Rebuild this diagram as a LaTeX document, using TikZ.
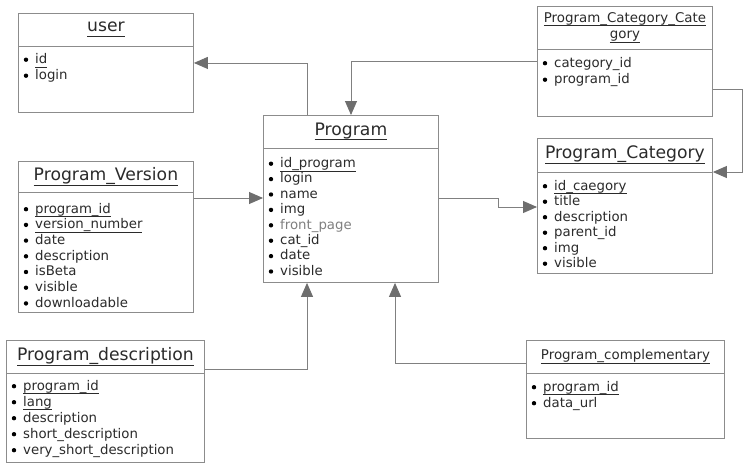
\documentclass[tikz,border=0pt]{standalone}
\usepackage{fontspec}
\setmainfont{DejaVu Sans}
\usetikzlibrary{arrows.meta,calc}

\definecolor{boxgray}{HTML}{8C8C8C}
\definecolor{linegray}{HTML}{808080}
\definecolor{tipgray}{HTML}{6E6E6E}
\definecolor{inkgray}{HTML}{2B2B2B}

% underline set at the foot of the descenders, just under the underscores
\newsavebox\ulbox
\newcommand\ul[1]{\sbox\ulbox{#1}\rlap{\rule[-0.28em]{\wd\ulbox}{0.045em}}\usebox\ulbox}

\tikzset{
  entbox/.style={draw=boxgray, line width=0.9pt, fill=white, inner sep=0pt, anchor=north west},
  entline/.style={draw=boxgray, line width=0.9pt},
  bigtitle/.style={font=\fontsize{17.2}{19}\selectfont, text=inkgray, inner sep=0pt, align=center},
  smalltitle/.style={font=\fontsize{13.4}{16.5}\selectfont, text=inkgray, inner sep=0pt, align=center},
  item/.style={font=\fontsize{13.3}{15}\selectfont, text=inkgray, inner sep=0pt, anchor=base west},
  bul/.style={fill=black},
  conn/.style={draw=linegray, line width=0.9pt, -{Triangle[length=14pt,width=12pt,fill=tipgray,color=tipgray]}},
}

% #1 name, #2 x, #3 y, #4 width, #5 height, #6 header height, #7 title style, #8 title
\newcommand\erbox[8]{%
  \node[entbox, minimum width=#4pt, minimum height=#5pt] (#1) at (#2,#3) {};
  \draw[entline] ([yshift=-#6pt]#1.north west) -- ([yshift=-#6pt]#1.north east);
  \node[#7] (#1-title) at ($(#1.north)!0.5!([yshift=-#6pt]#1.north)$) {#8};
}
% #1 name, #2 first baseline below top, #3 row pitch, #4 list of attributes
\newcommand\attrs[4]{%
  \foreach \t [count=\i] in {#4} {
    \node[item] (#1-a\i) at ([xshift=17pt, yshift={-(#2+(\i-1)*#3)*1pt}]#1.north west) {\t};
    \fill[bul] ([xshift=8pt, yshift={-(#2+(\i-1)*#3-3.8)*1pt}]#1.north west) circle (2.2pt);
  }%
}

\begin{document}
\begin{tikzpicture}[x=1pt, y=-1pt]
\useasboundingbox[fill=white] (0,0) rectangle (749,466);

% entities
\erbox{user}{18}{13}{175}{99}{33}{bigtitle}{\ul{user}}
\attrs{user}{50.5}{16}{\ul{id}, login}

\erbox{pcc}{537}{6}{175}{110}{43}{smalltitle}{\ul{Program\_Category\_Cate}\\[0pt]\ul{gory}}
\attrs{pcc}{61}{16.5}{category\_id, program\_id}

\erbox{prog}{263}{115}{175}{167}{33}{bigtitle}{\ul{Program}}
\attrs{prog}{52.5}{15.4}{\ul{id\_program}, login, name, img, \textcolor{gray}{front\_page}, cat\_id, date, visible}

\erbox{pcat}{537}{138}{175}{135}{34}{bigtitle}{\ul{Program\_Category}}
\attrs{pcat}{52}{15.5}{\ul{id\_caegory}, title, description, parent\_id, img, visible}

\erbox{pver}{18}{161}{175}{151}{31}{bigtitle}{\ul{Program\_Version}}
\attrs{pver}{52}{15.7}{\ul{program\_id}, \ul{version\_number}, date, description, isBeta, visible, downloadable}

\erbox{pdesc}{6}{340}{198}{122}{33}{bigtitle}{\ul{Program\_description}}
\attrs{pdesc}{50}{16}{\ul{program\_id}, \ul{lang}, description, short\_description, very\_short\_description}

\erbox{pcomp}{526}{340}{198}{98}{33}{smalltitle}{\ul{Program\_complementary}}
\attrs{pcomp}{51}{16}{\ul{program\_id}, data\_url}

% relations
\draw[conn] ([xshift=44pt]prog.north west) |- (user.east);
\draw[conn] (pcc.west) -| ([xshift=88pt]prog.north west);
\draw[conn] ([yshift=-83pt]pcc.north east) -- ++(30,0) |- ([yshift=-34pt]pcat.north east);
\draw[conn] ([yshift=-37pt]pver.north east) -- ([yshift=-83pt]prog.north west);
\draw[conn] ([yshift=-83pt]prog.north east) -- ++(60,0) |- ([yshift=-69pt]pcat.north west);
\draw[conn] ([yshift=-29pt]pdesc.north east) -| ([xshift=44pt]prog.south west);
\draw[conn] ([yshift=-23pt]pcomp.north west) -| ([xshift=132pt]prog.south west);
\end{tikzpicture}
\end{document}
